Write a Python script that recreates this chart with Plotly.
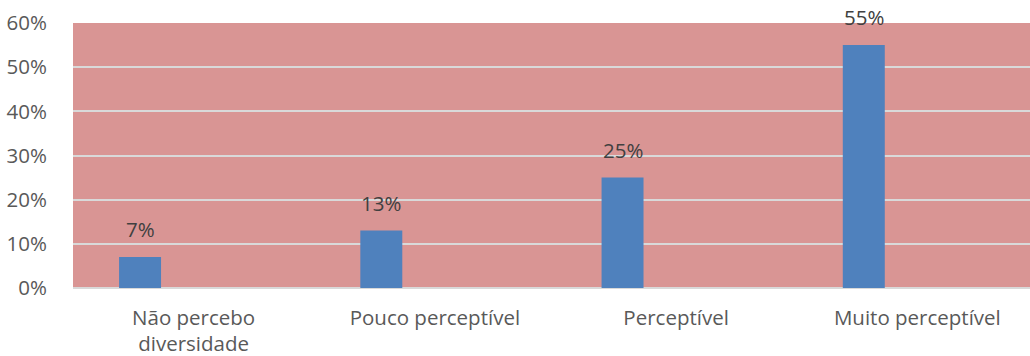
import plotly.graph_objects as go

categories = ["Não percebo<br>diversidade", "Pouco perceptível", "Perceptível", "Muito perceptível"]
values = [0.07, 0.13, 0.25, 0.55]
labels = ["7%", "13%", "25%", "55%"]
y_ticks = [0, 0.1, 0.2, 0.3, 0.4, 0.5, 0.6]
y_ticktext = ["0%", "10%", "20%", "30%", "40%", "50%", "60%"]

idx = list(range(len(categories)))
bar_offset = -0.309
bar_width = 0.174

fig = go.Figure()
fig.add_trace(go.Bar(
    x=idx, y=values, offset=bar_offset, width=bar_width,
    marker=dict(color="#4F81BD", line=dict(width=0)),
    hoverinfo="skip",
))

for i, v, t in zip(idx, values, labels):
    fig.add_annotation(x=i + bar_offset + bar_width / 2, y=v, text=t, showarrow=False,
                       yanchor="bottom", yshift=12,
                       font=dict(family="Open Sans", size=20.5, color="#404040"))

fig.update_layout(
    width=1030, height=356,
    margin=dict(l=73, r=0, t=23, b=68),
    paper_bgcolor="white", plot_bgcolor="#D99594",
    showlegend=False,
    font=dict(family="Open Sans", size=20.5, color="#595959"),
    xaxis=dict(range=[-0.5, 3.467], tickvals=idx, ticktext=categories,
               showgrid=False, zeroline=False, showline=False,
               ticks="outside", ticklen=11, tickcolor="rgba(0,0,0,0)",
               fixedrange=True),
    yaxis=dict(range=[0, 0.6], tickvals=y_ticks, ticktext=y_ticktext,
               showgrid=True, gridcolor="#D9D9D9", gridwidth=2,
               zeroline=True, zerolinecolor="#D9D9D9", zerolinewidth=2,
               showline=False, ticks="outside", ticklen=21, tickcolor="rgba(0,0,0,0)",
               fixedrange=True),
)

fig.write_html("out.html")
